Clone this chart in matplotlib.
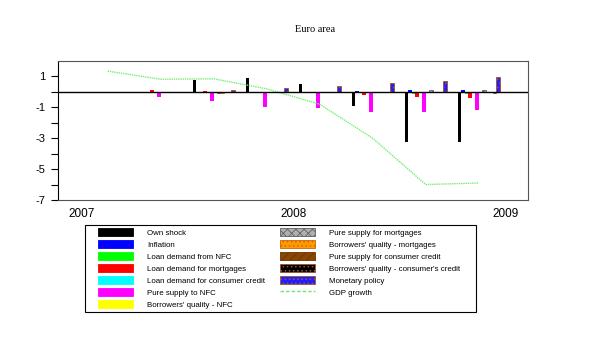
import numpy as np
import matplotlib
matplotlib.use("Agg")
import matplotlib.pyplot as plt
from matplotlib.patches import Patch, Rectangle
from matplotlib.lines import Line2D

plt.rcParams['font.family'] = ['Liberation Sans', 'DejaVu Sans']
plt.rcParams['hatch.linewidth'] = 0.6

# quarters 2007Q1 .. 2008Q4
quarters = ['2007Q1', '2007Q2', '2007Q3', '2007Q4', '2008Q1', '2008Q2', '2008Q3', '2008Q4']
year_labels = ['2007', '2008', '2009']
y_labels = ['1', '-1', '-3', '-5', '-7']

# contributions
own_shock = [-0.08, 0, 0.75, 0.87, 0.54, -0.92, -3.27, -3.23]
inflation = [0, 0, 0, 0, 0, 0.05, 0.1, 0.1]
loan_nfc = [0, 0, 0, -0.1, 0, -0.1, -0.15, -0.15]
loan_mortgages = [0, 0.1, 0.08, -0.05, 0, -0.17, -0.32, -0.39]
loan_consumer = [0, 0, 0, -0.1, -0.1, 0, -0.1, -0.05]
supply_nfc = [0, -0.3, -0.58, -0.97, -1.07, -1.29, -1.33, -1.14]
borrowers_nfc = [0, 0, 0, 0, 0, -0.1, -0.1, -0.1]
supply_mortgages = [0, 0, -0.05, 0, 0, 0, 0.1, 0.1]
borrowers_mortgages = [0, 0, -0.05, 0, 0, 0, 0, 0]
supply_consumer = [0, 0, 0, 0, 0, 0, 0, 0]
borrowers_consumer = [0, 0, 0, 0, 0, 0, 0, -0.1]
monetary_policy = [0, 0, 0.1, 0.26, 0.39, 0.6, 0.69, 0.97]
gdp_growth = [1.35, 0.82, 0.85, 0.2, -0.8, -3.0, -6.0, -5.9]

series = [
    ("Own shock", own_shock, dict(color='black')),
    ("Inflation", inflation, dict(color='#0000ff')),
    ("Loan demand from NFC", loan_nfc, dict(color='#00ff00')),
    ("Loan demand for mortgages", loan_mortgages, dict(color='#ff0000')),
    ("Loan demand for consumer credit", loan_consumer, dict(color='#00ffff')),
    ("Pure supply to NFC", supply_nfc, dict(color='#ff00ff')),
    ("Borrowers' quality - NFC", borrowers_nfc, dict(color='#ffff00')),
    ("Pure supply for mortgages", supply_mortgages,
     dict(facecolor='#b0b0b0', edgecolor='#606060', hatch='xxxx')),
    ("Borrowers' quality - mortgages", borrowers_mortgages,
     dict(facecolor='#ff9900', edgecolor='#cc6600', hatch='....')),
    ("Pure supply for consumer credit", supply_consumer,
     dict(facecolor='#8b4500', edgecolor='#6b3300', hatch='////')),
    ("Borrowers' quality - consumer's credit", borrowers_consumer,
     dict(facecolor='black', edgecolor='#a0522d', hatch='....')),
    ("Monetary policy", monetary_policy,
     dict(facecolor='#2020ff', edgecolor='#a0522d', hatch='....')),
]

fig = plt.figure(figsize=(6, 3.43), dpi=100)
ax = fig.add_axes([0.097, 0.417, 0.783, 0.405])

x = np.arange(len(quarters)) + 0.5
step = 0.066
handles = []
for j, (name, vals, style) in enumerate(series):
    pos = x + (j - 5.5) * step
    ax.bar(pos, vals, width=0.06, linewidth=0.6, **style)
    handles.append(Patch(label=name, linewidth=0.6, **style))

ax.plot(x, gdp_growth, color='#77ee77', lw=1, linestyle=(0, (1, 0.6)))
handles.append(Line2D([], [], color='#66ee66', lw=1, linestyle=(0, (2.5, 1.5)),
                      label='GDP growth'))

ax.axhline(0, color='black', lw=1)

ax.set_xlim(-0.434, 8.43)
ax.set_ylim(-7, 2)
ax.set_xticks([0, 4, 8])
ax.set_xticklabels(year_labels, fontsize=8.5)
ax.tick_params(axis='x', length=0, pad=6)
ax.set_yticks([1, -1, -3, -5, -7])
ax.set_yticklabels(y_labels)
ax.set_yticks([0, -2, -4, -6], minor=True)
ax.tick_params(axis='y', which='both', direction='out', length=5, width=0.8,
               labelsize=8, pad=4)

for side in ['top', 'right', 'bottom']:
    ax.spines[side].set_color('#555555')
ax.spines['left'].set_color('black')

fig.text(0.525, 1 - 30 / 343, 'Euro area', ha='center', va='center',
         fontsize=7.5, family='Liberation Serif')

# legend box drawn by hand, entries placed inside
W, H = 600, 343
fig.patches.append(Rectangle((84.7 / W, 1 - 312 / H), (475.7 - 84.7) / W,
                             (312 - 224.7) / H, transform=fig.transFigure,
                             facecolor='white', edgecolor='black', lw=0.8,
                             zorder=0))
fig.legend(handles=handles, ncol=2, loc='upper left',
           bbox_to_anchor=(98 / W, 1 - 228.5 / H),
           fontsize=5.7, handlelength=4.4, handleheight=1.15,
           handletextpad=1.8, labelspacing=0.42, columnspacing=1.9,
           frameon=False, borderpad=0, borderaxespad=0)

fig.savefig('out.png', dpi=100)
